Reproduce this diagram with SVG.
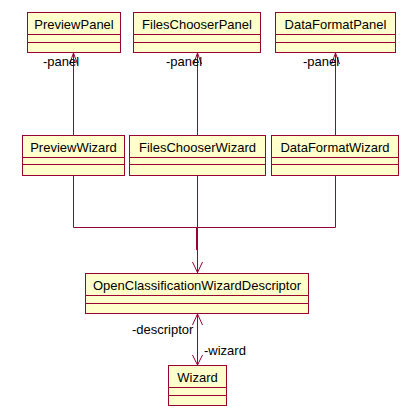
<svg xmlns="http://www.w3.org/2000/svg" width="417" height="420" viewBox="0 0 417 420">
<style>
.box{fill:#ffffcc;stroke:#990033;stroke-width:1}
.ln{stroke:#990033;stroke-width:1;fill:none}
text{font-family:"Liberation Sans",Arial,sans-serif;font-size:13px;fill:#000}
.c{text-anchor:middle}
</style>
<rect width="417" height="420" fill="#fff"/>
<g id="PreviewPanel"><rect class="box" x="27.5" y="12.5" width="93" height="40"/><line class="ln" x1="27.5" y1="34.5" x2="120.5" y2="34.5"/><line class="ln" x1="27.5" y1="42.5" x2="120.5" y2="42.5"/><text class="c" x="74" y="29">PreviewPanel</text></g>
<g id="FilesChooserPanel"><rect class="box" x="133.5" y="12.5" width="127" height="40"/><line class="ln" x1="133.5" y1="34.5" x2="260.5" y2="34.5"/><line class="ln" x1="133.5" y1="42.5" x2="260.5" y2="42.5"/><text class="c" x="197" y="29">FilesChooserPanel</text></g>
<g id="DataFormatPanel"><rect class="box" x="275.5" y="12.5" width="120" height="40"/><line class="ln" x1="275.5" y1="34.5" x2="395.5" y2="34.5"/><line class="ln" x1="275.5" y1="42.5" x2="395.5" y2="42.5"/><text class="c" x="335.5" y="29">DataFormatPanel</text></g>
<g id="PreviewWizard"><rect class="box" x="22.5" y="135.5" width="102" height="40"/><line class="ln" x1="22.5" y1="157.5" x2="124.5" y2="157.5"/><line class="ln" x1="22.5" y1="164.5" x2="124.5" y2="164.5"/><text class="c" x="73.5" y="152">PreviewWizard</text></g>
<g id="FilesChooserWizard"><rect class="box" x="129.5" y="135.5" width="136" height="40"/><line class="ln" x1="129.5" y1="157.5" x2="265.5" y2="157.5"/><line class="ln" x1="129.5" y1="164.5" x2="265.5" y2="164.5"/><text class="c" x="197.5" y="152">FilesChooserWizard</text></g>
<g id="DataFormatWizard"><rect class="box" x="271.5" y="135.5" width="127" height="40"/><line class="ln" x1="271.5" y1="157.5" x2="398.5" y2="157.5"/><line class="ln" x1="271.5" y1="164.5" x2="398.5" y2="164.5"/><text class="c" x="335" y="152">DataFormatWizard</text></g>
<g id="OpenClassificationWizardDescriptor"><rect class="box" x="85.5" y="273.5" width="223" height="40"/><line class="ln" x1="85.5" y1="295.5" x2="308.5" y2="295.5"/><line class="ln" x1="85.5" y1="303.5" x2="308.5" y2="303.5"/><text class="c" x="197" y="290">OpenClassificationWizardDescriptor</text></g>
<g id="Wizard"><rect class="box" x="168.5" y="365.5" width="58" height="40"/><line class="ln" x1="168.5" y1="387.5" x2="226.5" y2="387.5"/><line class="ln" x1="168.5" y1="395.5" x2="226.5" y2="395.5"/><text class="c" x="197.5" y="382">Wizard</text></g>
<g id="connectors">
<line class="ln" x1="73.5" y1="53" x2="73.5" y2="135"/>
<polyline class="ln" points="69.5,64 73.5,53 77.5,64"/>
<line class="ln" x1="197.5" y1="53" x2="197.5" y2="135"/>
<polyline class="ln" points="193.5,64 197.5,53 201.5,64"/>
<line class="ln" x1="335.5" y1="53" x2="335.5" y2="135"/>
<polyline class="ln" points="331.5,64 335.5,53 339.5,64"/>
<polyline class="ln" points="73.5,176 73.5,227.5 335.5,227.5 335.5,176"/>
<line class="ln" x1="197.5" y1="176" x2="197.5" y2="227.5"/>
<line class="ln" x1="197.5" y1="227" x2="197.5" y2="273"/>
<line stroke="#990033" stroke-width="2" x1="197" y1="228" x2="197" y2="250"/>
<polyline class="ln" points="192.5,262 197.5,272.5 202.5,262"/>
<line class="ln" x1="197.5" y1="314" x2="197.5" y2="365"/>
<polyline class="ln" points="192.5,325 197.5,314 202.5,325"/>
<polyline class="ln" points="192.5,355 197.5,365 202.5,355"/>
<text x="43" y="66">-panel</text>
<text x="166" y="66">-panel</text>
<text x="303" y="66">-panel</text>
<text x="132" y="334">-descriptor</text>
<text x="204" y="355">-wizard</text>
</g>
</svg>
